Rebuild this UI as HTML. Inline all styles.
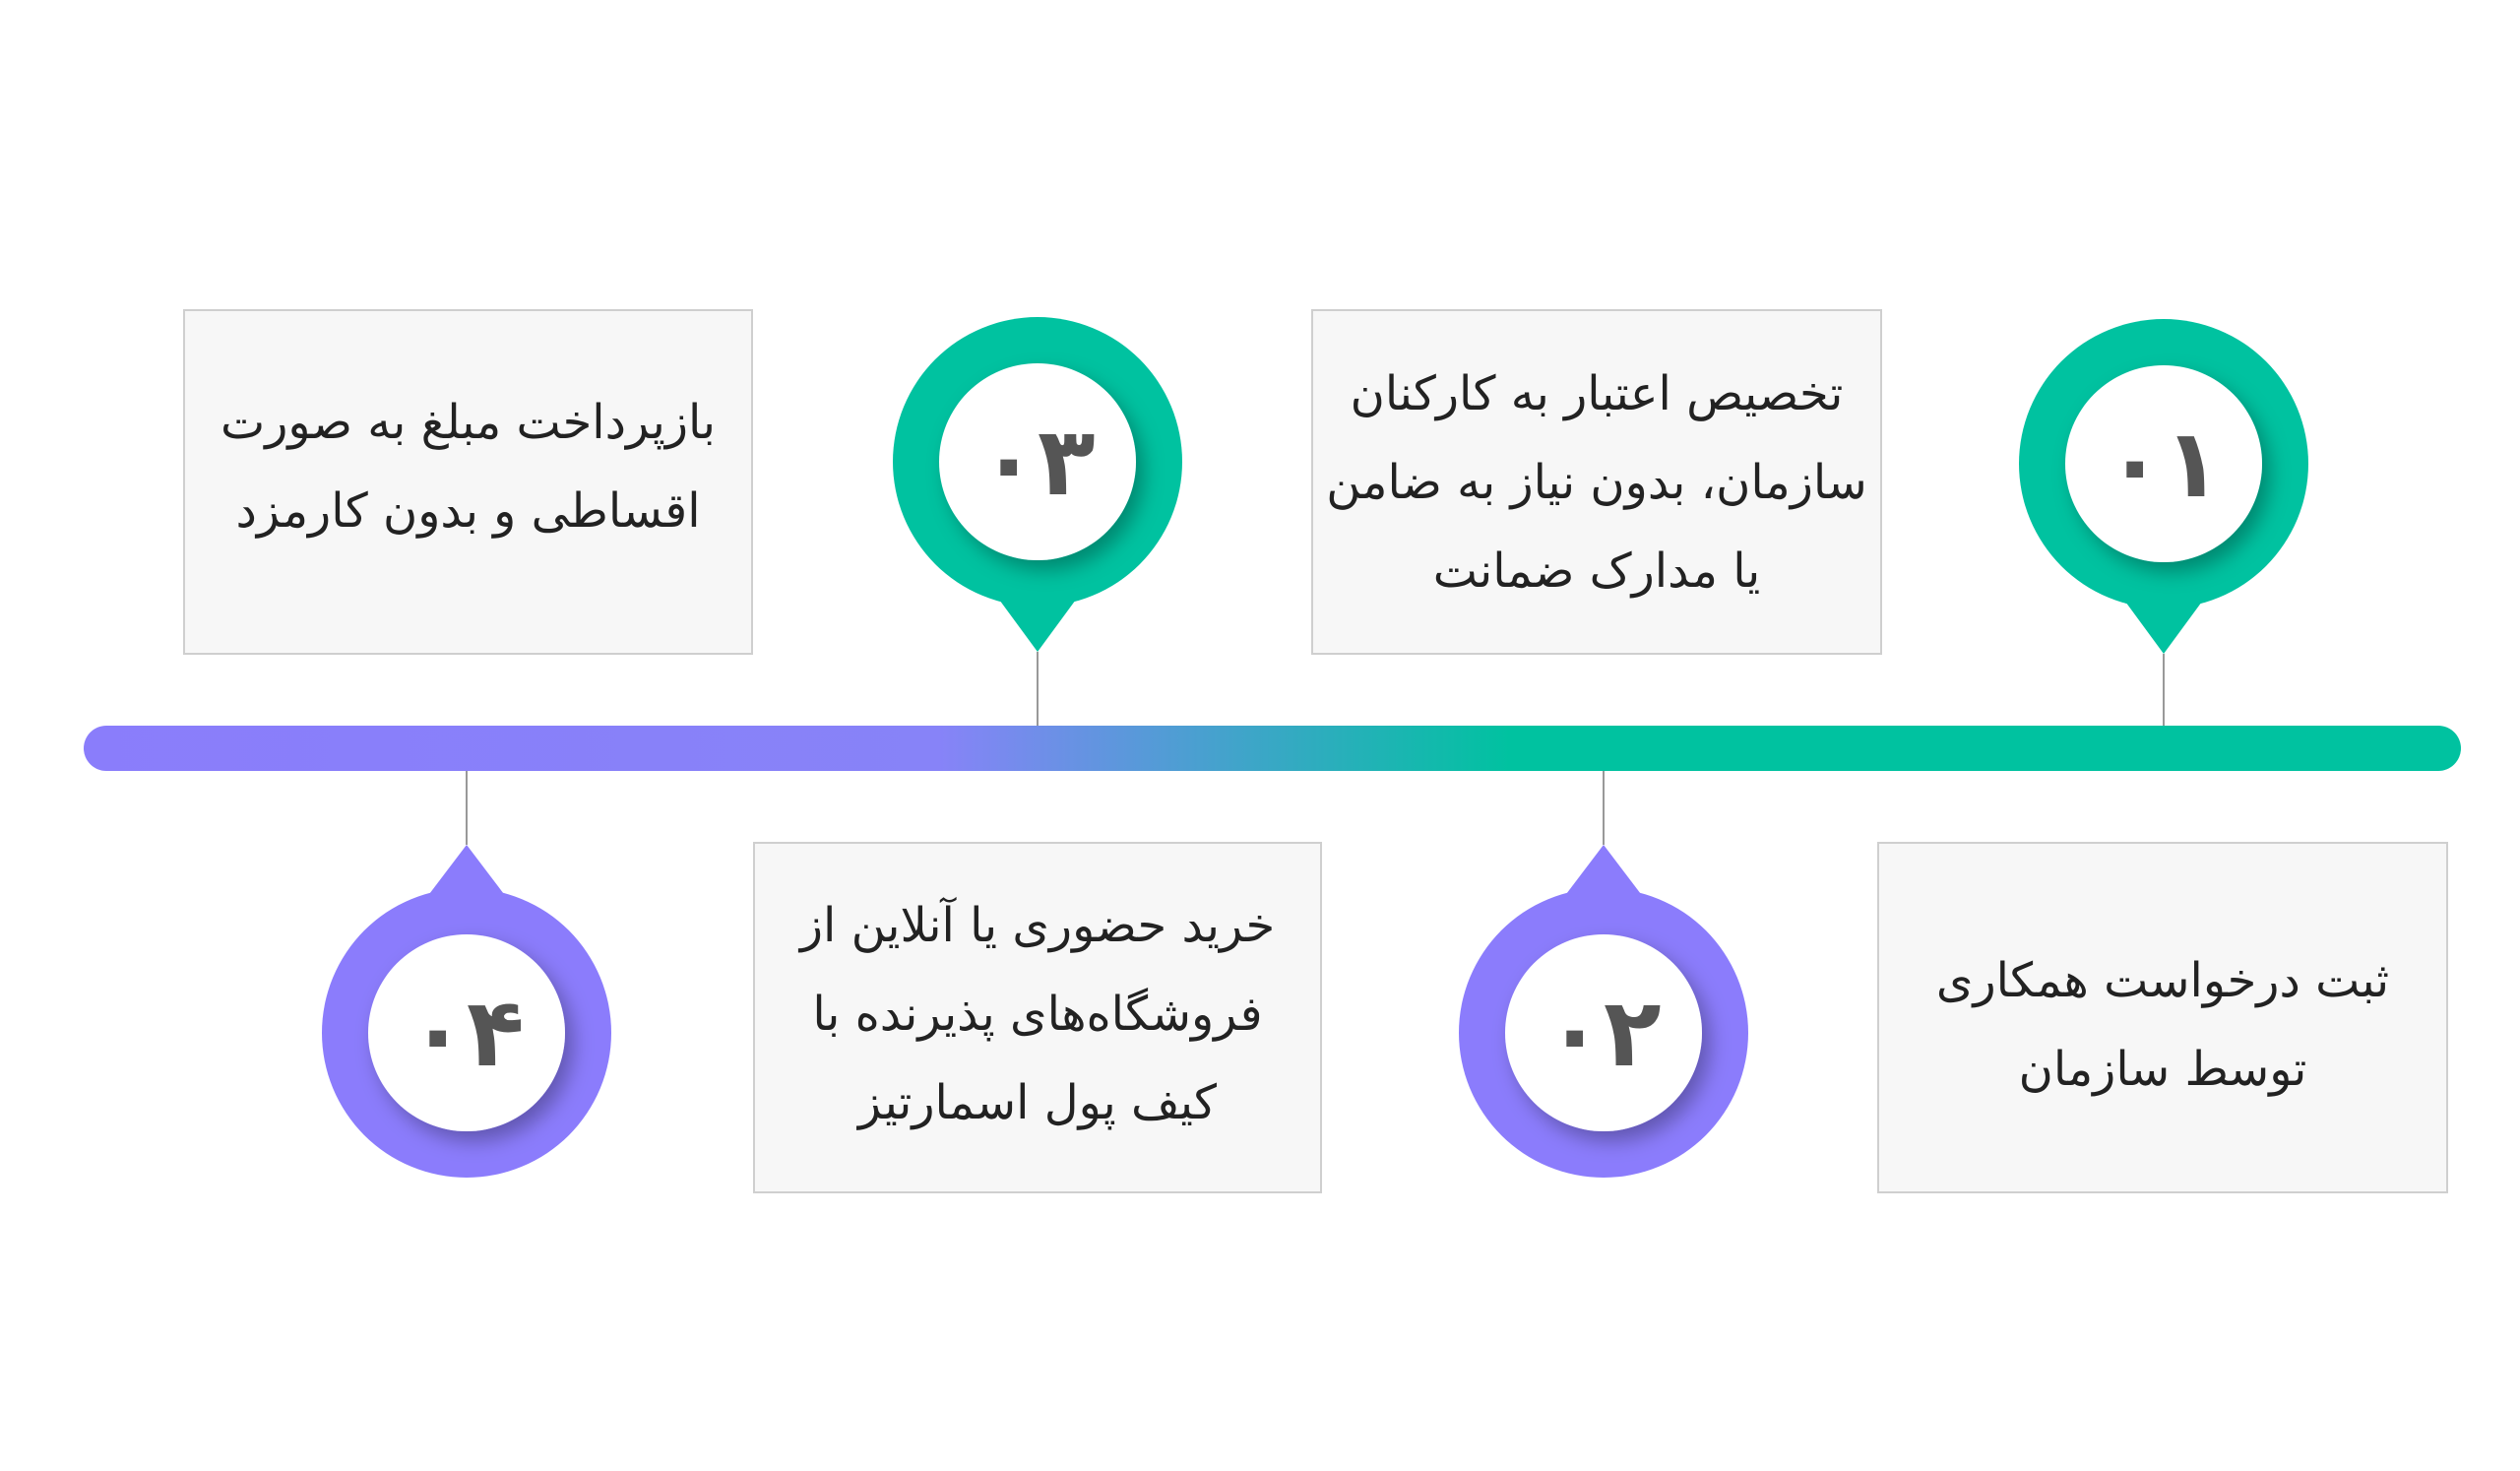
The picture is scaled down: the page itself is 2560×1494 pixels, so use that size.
<!DOCTYPE html>
<html><head><meta charset="utf-8"><style>
html,body{margin:0;padding:0;background:#fff;}
body{width:2560px;height:1494px;position:relative;overflow:hidden;font-family:"DejaVu Sans",sans-serif;}
.box{position:absolute;background:#f7f7f7;border:2px solid #cfcfcf;box-sizing:border-box;display:flex;align-items:center;justify-content:center;text-align:center;direction:rtl;font-size:48px;line-height:90px;color:#222;}
.num{position:absolute;width:200px;height:120px;text-align:center;font-size:96px;font-weight:bold;color:#555;line-height:120px;direction:ltr;}
</style></head><body>
<svg width="2560" height="1494" style="position:absolute;left:0;top:0">
<defs>
<linearGradient id="g" x1="85" y1="0" x2="2500" y2="0" gradientUnits="userSpaceOnUse">
<stop offset="0" stop-color="#8a7dfb"/><stop offset="0.36" stop-color="#8783f8"/><stop offset="0.6" stop-color="#00c2a0"/><stop offset="1" stop-color="#00c2a0"/>
</linearGradient>
<filter id="s" x="-30%" y="-30%" width="170%" height="170%"><feDropShadow dx="8" dy="10" stdDeviation="10" flood-color="#000" flood-opacity="0.3"/></filter>
</defs>
<line x1="1054" y1="662" x2="1054" y2="740" stroke="#999" stroke-width="2"/>
<line x1="2198" y1="664" x2="2198" y2="740" stroke="#999" stroke-width="2"/>
<line x1="474" y1="780" x2="474" y2="858" stroke="#999" stroke-width="2"/>
<line x1="1629" y1="780" x2="1629" y2="858" stroke="#999" stroke-width="2"/>
<rect x="85" y="737" width="2415" height="46" rx="23" fill="url(#g)"/>
<g fill="#00c2a0">
<circle cx="1054" cy="469" r="147"/><polygon points="1007,598 1101,598 1054,662"/>
<circle cx="2198" cy="471" r="147"/><polygon points="2151,600 2245,600 2198,664"/>
</g>
<g fill="#8b7cfc">
<circle cx="474" cy="1049" r="147"/><polygon points="427,920 521,920 474,858"/>
<circle cx="1629" cy="1049" r="147"/><polygon points="1582,920 1676,920 1629,858"/>
</g>
<g fill="#fff" filter="url(#s)">
<circle cx="1054" cy="469" r="100"/><circle cx="2198" cy="471" r="100"/>
<circle cx="474" cy="1049" r="100"/><circle cx="1629" cy="1049" r="100"/>
</g>
</svg>
<div class="num" style="left:954px;top:409px">۰۳</div>
<div class="num" style="left:2098px;top:411px">۰۱</div>
<div class="num" style="left:374px;top:989px">۰۴</div>
<div class="num" style="left:1529px;top:989px">۰۲</div>
<div class="box" style="left:186px;top:314px;width:579px;height:351px;padding-bottom:32px">بازپرداخت مبلغ به صورت<br>اقساطی و بدون کارمزد</div>
<div class="box" style="left:1332px;top:314px;width:580px;height:351px">تخصیص اعتبار به کارکنان<br>سازمان، بدون نیاز به ضامن<br>یا مدارک ضمانت</div>
<div class="box" style="left:765px;top:855px;width:578px;height:357px;padding-bottom:8px">خرید حضوری یا آنلاین از<br>فروشگاه‌های پذیرنده با<br>کیف پول اسمارتیز</div>
<div class="box" style="left:1907px;top:855px;width:580px;height:357px;padding-top:14px">ثبت درخواست همکاری<br>توسط سازمان</div>
</body></html>
